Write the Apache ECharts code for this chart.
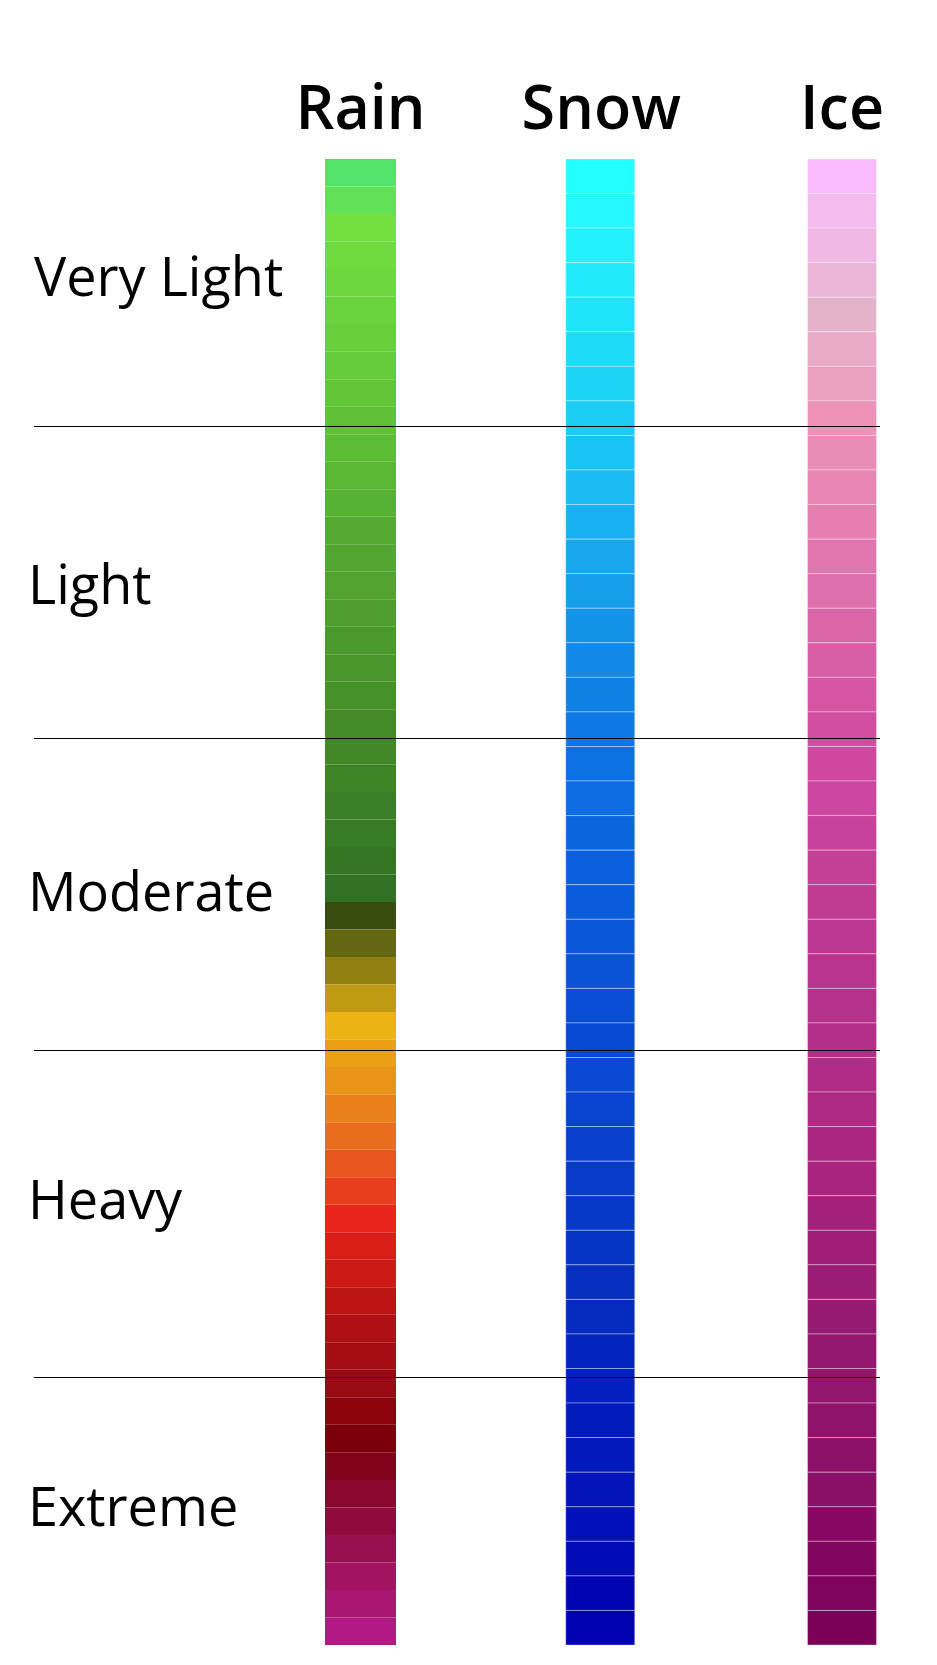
<!DOCTYPE html>
<html><head><meta charset="utf-8">
<script src="https://cdn.jsdelivr.net/npm/echarts@6/dist/echarts.min.js"></script>
<style>html,body{margin:0;padding:0;background:#fff}#c{width:937px;height:1665px}</style>
</head><body><div id="c"></div>
<script>
// ---- data ----
const types = ['Rain', 'Snow', 'Ice'];
const levels = ['Very Light', 'Light', 'Moderate', 'Heavy', 'Extreme'];
// boundaries between intensity levels, as fraction of the scale
const levelBreaks = [0.18, 0.3925, 0.6045, 0.8175];

const rainColors = [
  '#52E36A','#62E058','#74E03F','#70DB3E','#6DD73D','#6AD33C','#68CF3B','#66CB3A','#63C638','#60C137',
  '#5DBC35','#5AB734','#57B133','#55AB32','#53A631','#51A22F','#4F9E2E','#4C9A2D','#4A962C','#46912A',
  '#438C29','#408828','#3E8427','#3B8026','#387B25','#357624','#327123','#384D0F','#636810','#917F10',
  '#C09A12','#EBB313','#EAA012','#E99317','#EA801A','#EA6D1D','#E8561E','#E83E1B','#E8241D','#D91E18',
  '#CC1A16','#BD1414','#AE1014','#A50C14','#9A0A12','#8C040C','#7C000C','#82041C','#8A082E','#920A3C',
  '#9A0F50','#A21460','#AA1772','#B01A82'
];
const snowColors = [
  '#23FFFF','#24F8FE','#22F1FC','#20EAFA','#1EE3F9','#1DDBF7','#1BD3F5','#1ACBF4','#19C3F2','#1ABAF2',
  '#17B0F0','#16A7EC','#159DEA','#1393E8','#108AE6','#0F81E5','#0E78E4','#0C72E4','#0D6DE3','#0B66DE',
  '#0A60DC','#0A5CDB','#0A58D9','#0853D6','#084DD3','#0749D2','#0848D2','#0944D0','#0840CD','#073CCA',
  '#0638C7','#0533C4','#062FC0','#052ABE','#0425BD','#0220C0','#021CBC','#0218BA','#0214B8','#0110B8',
  '#000BB6','#0005B4','#0000B0'
];
const iceColors = [
  '#FABBFC','#F4BBEE','#F0B8E2','#EAB5D6','#E3B3C9','#E8AAC6','#E9A0BE','#EC93B7','#EA8DB6','#E886B3',
  '#E47FB0','#E176AE','#DF70AE','#DA66A8','#D85FA5','#D556A2','#D14EA0','#CF479F','#CC459E','#C7429A',
  '#C43F96','#C03C93','#BC3890','#B8348D','#B4328A','#B22E87','#B02C86','#AE2A83','#AA2680','#A8247E',
  '#A3207B','#A01E78','#9A1C75','#961A72','#941870','#93166D','#8F136A','#8C1068','#8A0F66','#860862',
  '#820560','#7E035D','#7A0058'
];

// ---- build ----
function cells(colIdx, colors) {
  const n = colors.length;
  return colors.map((c, i) => ({ value: [colIdx, i / n, (i + 1) / n], itemStyle: { color: c } }));
}
function makeRender(width, stroke, dx) {
  return function (params, api) {
    const x = api.value(0);
    const p0 = api.coord([x, api.value(1)]);
    const p1 = api.coord([x, api.value(2)]);
    return {
      type: 'rect',
      shape: { x: p0[0] - width / 2 + dx, y: p0[1], width: width, height: p1[1] - p0[1] },
      style: { fill: api.visual('color'), stroke: stroke, lineWidth: stroke ? 1 : 0 }
    };
  };
}

const chart = echarts.init(document.getElementById('c'), null, { renderer: 'canvas' });
const colStyle = [
  { w: 71, stroke: null, dx: 0 },
  { w: 69, stroke: 'rgba(255,255,255,0.35)', dx: -1 },
  { w: 69, stroke: 'rgba(255,255,255,0.35)', dx: 0 }
];
const colSeries = [rainColors, snowColors, iceColors].map((cols, k) => ({
  type: 'custom',
  xAxisIndex: 0, yAxisIndex: 0,
  renderItem: makeRender(colStyle[k].w, colStyle[k].stroke, colStyle[k].dx),
  encode: { x: 0, y: [1, 2] },
  data: cells(k, cols),
  silent: true
}));

chart.setOption({
  animation: false,
  backgroundColor: '#ffffff',
  grid: [
    { left: 360.5, right: 95, top: 159, bottom: 20 },
    { left: 34, right: 57, top: 159, bottom: 20 },
    { left: 28, right: 600, top: 281, bottom: 154 }
  ],
  xAxis: [
    {
      gridIndex: 0, type: 'category', data: types, boundaryGap: false, position: 'top',
      axisLine: { show: false }, axisTick: { show: false }, splitLine: { show: false },
      axisLabel: { fontSize: 61, fontWeight: 600, fontFamily: 'Open Sans', color: '#000', margin: 17 }
    },
    { gridIndex: 1, type: 'value', min: 0, max: 1, show: false },
    { gridIndex: 2, type: 'value', min: 0, max: 1, show: false }
  ],
  yAxis: [
    { gridIndex: 0, type: 'value', min: 0, max: 1, inverse: true, show: false },
    { gridIndex: 1, type: 'value', min: 0, max: 1, inverse: true, show: false },
    {
      gridIndex: 2, type: 'category', data: levels, inverse: true, boundaryGap: false,
      axisLine: { show: false }, axisTick: { show: false }, splitLine: { show: false },
      axisLabel: {
        fontSize: 54, fontFamily: 'Open Sans', color: '#000', align: 'left', margin: 0,
        formatter: (v, i) => i === 0 ? '{ind|' + v + '}' : v,
        rich: { ind: { fontSize: 54, fontFamily: 'Open Sans', color: '#000', padding: [0, 0, 0, 6] } }
      }
    }
  ],
  series: colSeries.concat([
    {
      type: 'line', xAxisIndex: 1, yAxisIndex: 1, data: [], symbol: 'none', silent: true,
      markLine: {
        silent: true, symbol: 'none', label: { show: false },
        lineStyle: { color: '#000', width: 1, type: 'solid' },
        data: levelBreaks.map(v => ({ yAxis: v }))
      }
    }
  ])
});
</script>
</body></html>
